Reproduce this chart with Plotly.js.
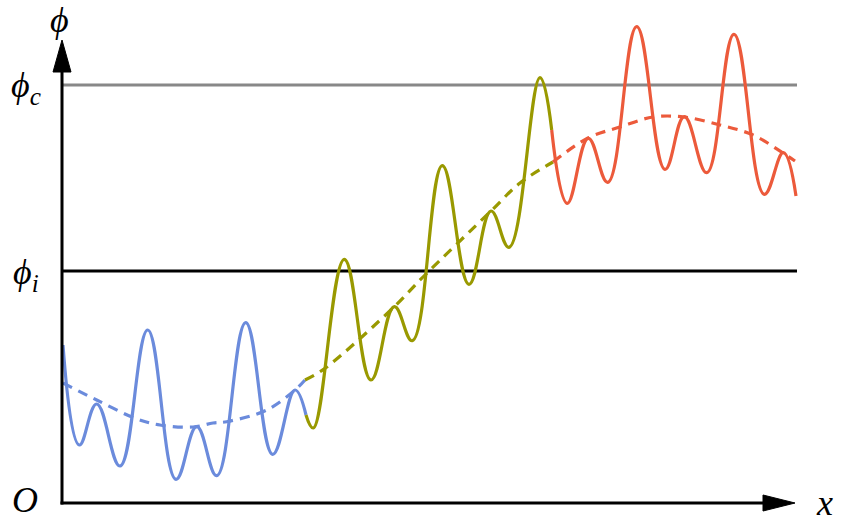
<!DOCTYPE html>
<html>
<head>
<meta charset="utf-8">
<script src="https://cdn.plot.ly/plotly-3.0.1.min.js"></script>
<style>html,body{margin:0;padding:0;background:#fff;}#chart{width:843px;height:520px;}</style>
</head>
<body>
<div id="chart"></div>
<script>
// Oscillating field (solid), three coloured stages
const blueX  = [1, 17.3, 34.7, 58, 85.7, 114, 134.7, 154.7, 183.7, 210.7, 233, 244];
const blueY  = [158, 58, 99, 37, 173, 23.7, 76.3, 27.3, 180.3, 48.7, 113, 88];
const oliveX = [244, 251.3, 282.3, 309, 332.3, 350.3, 380.3, 407, 429, 447, 478, 489.7];
const oliveY = [88, 75, 243.7, 123, 196.3, 162.3, 337.3, 218.7, 292, 255.7, 425.3, 373];
const redX   = [489.7, 505.3, 526.3, 545.7, 574.7, 603, 622.3, 644.7, 672, 702.3, 721.3, 734];
const redY   = [373, 299.7, 364.7, 320.7, 476.3, 333.7, 386.3, 330.3, 468.7, 308.7, 350.3, 307];

// Mean trend (dashed)
const trendBlueX  = [1, 34.7, 75, 98, 131, 151, 164.7, 204.7, 233, 243];
const trendBlueY  = [120, 103, 84, 78, 76, 80, 81.3, 93, 113, 123];
const trendOliveX = [243, 262, 332, 361, 429, 458, 491];
const trendOliveY = [123, 134, 196, 226, 292, 320, 341];
const trendRedX   = [491, 526, 558, 591, 622, 658, 691, 721, 733];
const trendRedY   = [341, 365, 376, 386, 386, 378, 368, 350, 342];

// Threshold levels
const levelX = [0, 735];
const phiC = 418;
const phiI = 232;

const BLUE = '#6b8bdc', OLIVE = '#999900', RED = '#ec5a3b';

function solid(x, y, c) {
  return {x: x, y: y, mode: 'lines', line: {color: c, width: 3.2, shape: 'spline', smoothing: 1.2}, hoverinfo: 'skip'};
}
function dashed(x, y, c) {
  return {x: x, y: y, mode: 'lines', line: {color: c, width: 3.2, dash: '10px,7px', shape: 'spline', smoothing: 1}, hoverinfo: 'skip'};
}

const data = [
  {x: levelX, y: [phiC, phiC], mode: 'lines', line: {color: '#888888', width: 3}, hoverinfo: 'skip'},
  {x: levelX, y: [phiI, phiI], mode: 'lines', line: {color: '#000000', width: 3}, hoverinfo: 'skip'},
  dashed(trendBlueX, trendBlueY, BLUE),
  dashed(trendOliveX, trendOliveY, OLIVE),
  dashed(trendRedX, trendRedY, RED),
  solid(blueX, blueY, BLUE),
  solid(oliveX, oliveY, OLIVE),
  solid(redX, redY, RED)
];

const F = {family: 'Liberation Serif, DejaVu Serif, serif', size: 36, color: '#000'};
function lab(x, y, t, xa) {
  return {x: x, y: y, xref: 'x', yref: 'y', text: t, showarrow: false, font: F, xanchor: xa || 'center', yanchor: 'middle'};
}

const layout = {
  width: 843, height: 520,
  margin: {l: 0, r: 0, t: 0, b: 0},
  paper_bgcolor: '#fff', plot_bgcolor: '#fff',
  showlegend: false,
  xaxis: {range: [-62, 781], visible: false, fixedrange: true},
  yaxis: {range: [-17, 503], visible: false, fixedrange: true},
  shapes: [
    {type: 'line', xref: 'x', yref: 'y', x0: 0, y0: -1.5, x1: 0, y1: 440, line: {color: '#000', width: 3}},
    {type: 'path', xref: 'x', yref: 'y', path: 'M -9,431 L 9,431 L 0,463 Z', fillcolor: '#000', line: {color: '#000', width: 1}},
    {type: 'line', xref: 'x', yref: 'y', x0: -1.5, y0: 0, x1: 710, y1: 0, line: {color: '#000', width: 3}},
    {type: 'path', xref: 'x', yref: 'y', path: 'M 701,-8 L 701,8 L 733,0 Z', fillcolor: '#000', line: {color: '#000', width: 1}}
  ],
  annotations: [
    lab(-3, 483, '<i>ϕ</i>'),
    lab(-36, 416, '<i>ϕ<sub>c</sub></i>'),
    lab(-36, 229, '<i>ϕ<sub>i</sub></i>'),
    lab(-37, 3, '<i>O</i>'),
    lab(752, 0, '<i>x</i>', 'left')
  ]
};

Plotly.newPlot('chart', data, layout, {displayModeBar: false, staticPlot: true});
</script>
</body>
</html>
